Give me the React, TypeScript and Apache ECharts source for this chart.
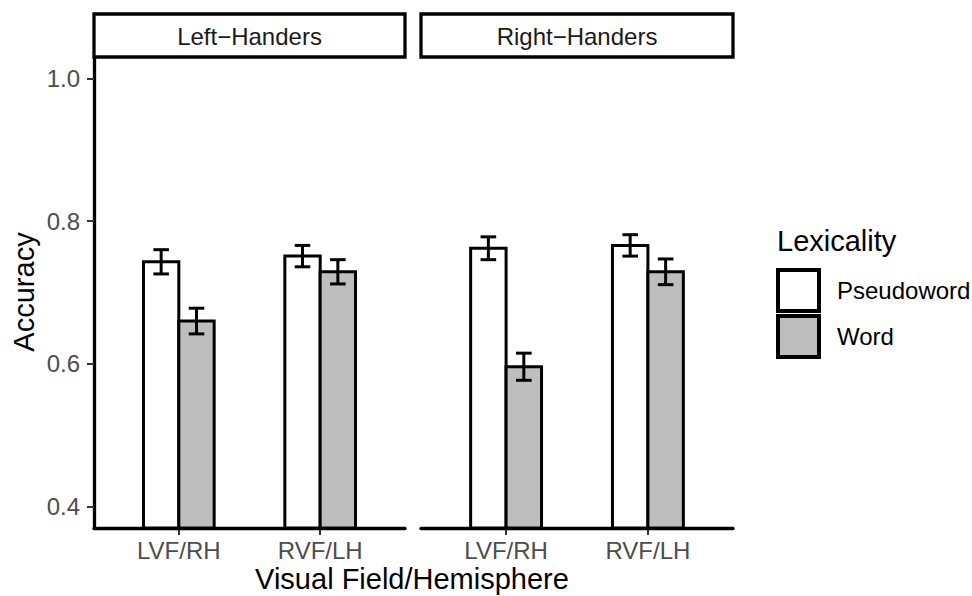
import React, { useEffect, useRef } from "react";
import * as echarts from "echarts";

// Facets, categories and tick marks
const panels = ["Left\u2212Handers", "Right\u2212Handers"];
const fields = ["LVF/RH", "RVF/LH"];
const fieldPos = [1, 2];
const yTicks = [0.4, 0.6, 0.8, 1.0];
const lexicality = ["Pseudoword", "Word"];

// Mean accuracy and standard error per facet, by visual field
const leftPseudo = [0.743, 0.751];
const leftPseudoSE = [0.017, 0.015];
const leftWord = [0.66, 0.729];
const leftWordSE = [0.018, 0.017];
const rightPseudo = [0.762, 0.766];
const rightPseudoSE = [0.016, 0.015];
const rightWord = [0.596, 0.729];
const rightWordSE = [0.019, 0.018];

const Y_MIN = 0.37;
const Y_MAX = 1.03;
const X_MIN = 0.4;
const X_MAX = 2.6;
const BAR_HALF = 0.125;
const CAP_HALF = 0.055;

const FONT = "'Liberation Sans', Arial, Helvetica, sans-serif";
const fills = ["#ffffff", "#bebebe"];

const toData = (vals: number[], ses: number[]) =>
  vals.map((v, i) => [fieldPos[i], v, ses[i]]);

function barSeries(name: string, grid: number, offset: number, fill: string, data: number[][]) {
  return {
    type: "custom",
    name,
    xAxisIndex: grid,
    yAxisIndex: grid,
    itemStyle: { color: fill },
    data,
    renderItem: (_params: any, api: any) => {
      const xc = api.value(0) + offset;
      const v = api.value(1);
      const se = api.value(2);
      const tl = api.coord([xc - BAR_HALF, v]);
      const br = api.coord([xc + BAR_HALF, Y_MIN]);
      const top = api.coord([xc, v + se]);
      const bot = api.coord([xc, v - se]);
      const capL = api.coord([xc - CAP_HALF, v])[0];
      const capR = api.coord([xc + CAP_HALF, v])[0];
      const line = { stroke: "#000", lineWidth: 3 };
      return {
        type: "group",
        children: [
          {
            type: "rect",
            shape: { x: tl[0], y: tl[1], width: br[0] - tl[0], height: br[1] - tl[1] },
            style: { fill, stroke: "#000", lineWidth: 3 },
          },
          { type: "line", shape: { x1: top[0], y1: top[1], x2: bot[0], y2: bot[1] }, style: line },
          { type: "line", shape: { x1: capL, y1: top[1], x2: capR, y2: top[1] }, style: line },
          { type: "line", shape: { x1: capL, y1: bot[1], x2: capR, y2: bot[1] }, style: line },
        ],
      };
    },
  };
}

const grids = [
  { left: 94, top: 57, width: 311, height: 471 },
  { left: 421, top: 57, width: 312, height: 471 },
];

function xAxis(grid: number) {
  return {
    type: "value",
    gridIndex: grid,
    min: X_MIN,
    max: X_MAX,
    splitLine: { show: false },
    axisLine: { show: true, onZero: false, lineStyle: { color: "#000", width: 3.3 } },
    axisTick: { show: true, length: 7, customValues: fieldPos, lineStyle: { color: "#333", width: 2 } },
    axisLabel: {
      customValues: fieldPos,
      formatter: (v: number) => fields[fieldPos.indexOf(v)] ?? "",
      fontSize: 24,
      color: "#4d4d4d",
      margin: 10,
      fontFamily: FONT,
    },
  };
}

function yAxis(grid: number) {
  const shown = grid === 0;
  return {
    type: "value",
    gridIndex: grid,
    min: Y_MIN,
    max: Y_MAX,
    splitLine: { show: false },
    axisLine: { show: shown, onZero: false, lineStyle: { color: "#000", width: 3.3 } },
    axisTick: { show: shown, length: 7, customValues: yTicks, lineStyle: { color: "#333", width: 2 } },
    axisLabel: {
      show: shown,
      customValues: yTicks,
      formatter: (v: number) => v.toFixed(1),
      fontSize: 24,
      color: "#4d4d4d",
      margin: 14,
      fontFamily: FONT,
    },
  };
}

function strip(i: number) {
  const g = grids[i];
  return [
    {
      type: "rect",
      shape: { x: g.left, y: 14, width: g.width, height: 43 },
      style: { fill: "#fff", stroke: "#000", lineWidth: 3.3 },
    },
    {
      type: "text",
      x: g.left + g.width / 2,
      y: 36,
      style: {
        text: panels[i],
        fontSize: 24,
        fontFamily: FONT,
        fill: "#1a1a1a",
        textAlign: "center",
        textVerticalAlign: "middle",
      },
    },
  ];
}

export default function App() {
  const ref = useRef<HTMLDivElement>(null);

  useEffect(() => {
    if (!ref.current) return;
    const chart = echarts.init(ref.current, undefined, { renderer: "svg" });
    chart.setOption({
      animation: false,
      backgroundColor: "#fff",
      textStyle: { fontFamily: FONT },
      grid: grids,
      xAxis: [xAxis(0), xAxis(1)],
      yAxis: [yAxis(0), yAxis(1)],
      legend: {
        data: lexicality,
        orient: "vertical",
        left: 776,
        top: 268,
        padding: 0,
        itemWidth: 41,
        itemHeight: 41,
        itemGap: 1,
        icon: "rect",
        itemStyle: { borderColor: "#000", borderWidth: 4 },
        textStyle: { fontSize: 24, color: "#000", fontFamily: FONT, padding: [0, 0, 0, 13] },
        selectedMode: false,
      },
      series: [
        barSeries(lexicality[0], 0, -BAR_HALF, fills[0], toData(leftPseudo, leftPseudoSE)),
        barSeries(lexicality[1], 0, BAR_HALF, fills[1], toData(leftWord, leftWordSE)),
        barSeries(lexicality[0], 1, -BAR_HALF, fills[0], toData(rightPseudo, rightPseudoSE)),
        barSeries(lexicality[1], 1, BAR_HALF, fills[1], toData(rightWord, rightWordSE)),
      ],
      graphic: [
        ...strip(0),
        ...strip(1),
        {
          type: "text",
          x: 412,
          y: 579,
          style: {
            text: "Visual Field/Hemisphere",
            fontSize: 29,
            fontFamily: FONT,
            fill: "#000",
            textAlign: "center",
            textVerticalAlign: "middle",
          },
        },
        {
          type: "text",
          x: 24,
          y: 292,
          rotation: Math.PI / 2,
          style: {
            text: "Accuracy",
            fontSize: 29,
            fontFamily: FONT,
            fill: "#000",
            textAlign: "center",
            textVerticalAlign: "middle",
          },
        },
        {
          type: "text",
          x: 777,
          y: 241,
          style: {
            text: "Lexicality",
            fontSize: 29,
            fontFamily: FONT,
            fill: "#000",
            textAlign: "left",
            textVerticalAlign: "middle",
          },
        },
      ],
    });
    return () => chart.dispose();
  }, []);

  return (
    <div
      ref={ref}
      style={{ position: "fixed", left: 0, top: 0, width: 972, height: 596 }}
    />
  );
}
